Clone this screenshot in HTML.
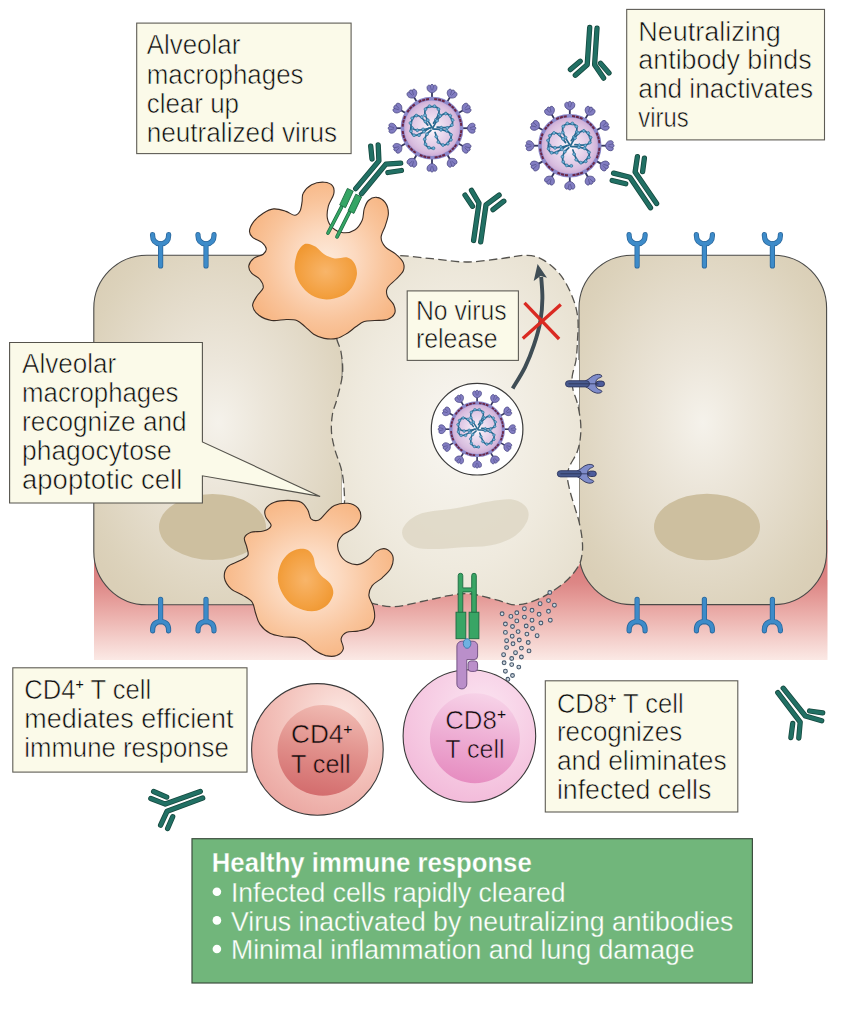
<!DOCTYPE html>
<html><head><meta charset="utf-8"><title>Healthy immune response</title>
<style>
html,body{margin:0;padding:0;background:#fff;}
svg{display:block;}
text{font-family:"Liberation Sans",sans-serif;}
</style></head><body>
<svg width="855" height="1024" viewBox="0 0 855 1024">
<defs>
<linearGradient id="pink" x1="0" y1="0" x2="0" y2="1">
 <stop offset="0" stop-color="#d26c6c"/><stop offset="0.32" stop-color="#d97c7c"/><stop offset="0.45" stop-color="#dd8786"/><stop offset="0.57" stop-color="#e59c99"/><stop offset="0.71" stop-color="#edb5b1"/><stop offset="0.857" stop-color="#f4d0cc"/><stop offset="1" stop-color="#fbe9e5"/>
</linearGradient>
<radialGradient id="cellg" cx="0.5" cy="0.48" r="0.62">
 <stop offset="0" stop-color="#f5f2eb"/><stop offset="0.3" stop-color="#ece6da"/><stop offset="0.6" stop-color="#e4dccb"/><stop offset="0.9" stop-color="#dcd2bb"/><stop offset="1" stop-color="#dacfb7"/>
</radialGradient>
<radialGradient id="midg" cx="0.5" cy="0.5" r="0.65">
 <stop offset="0" stop-color="#f8f6f1"/><stop offset="0.6" stop-color="#efeade"/><stop offset="1" stop-color="#e6dfce"/>
</radialGradient>
<radialGradient id="macg" cx="0.5" cy="0.5" r="0.55">
 <stop offset="0" stop-color="#fdeadb"/><stop offset="0.35" stop-color="#fcd9bf"/><stop offset="0.7" stop-color="#f9c49b"/><stop offset="1" stop-color="#f7b582"/>
</radialGradient>
<radialGradient id="nucg" cx="0.5" cy="0.5" r="0.6">
 <stop offset="0" stop-color="#f8b56a"/><stop offset="0.7" stop-color="#f3a040"/><stop offset="1" stop-color="#ef962e"/>
</radialGradient>
<radialGradient id="vg" cx="0.5" cy="0.5" r="0.5">
 <stop offset="0" stop-color="#ffffff"/><stop offset="0.25" stop-color="#f1e4f3"/><stop offset="0.8" stop-color="#d9bfe0"/><stop offset="1" stop-color="#c9a6d2"/>
</radialGradient>
<radialGradient id="cd4o" cx="0.68" cy="0.25" r="0.95">
 <stop offset="0" stop-color="#fbe7e2"/><stop offset="0.5" stop-color="#f3c1ba"/><stop offset="1" stop-color="#e89e99"/>
</radialGradient>
<linearGradient id="cd4i" x1="0.6" y1="0" x2="0.4" y2="1">
 <stop offset="0" stop-color="#f0bab2"/><stop offset="0.5" stop-color="#e1908b"/><stop offset="1" stop-color="#d36c6d"/>
</linearGradient>
<radialGradient id="cd8o" cx="0.6" cy="0.3" r="0.9">
 <stop offset="0" stop-color="#fbe4f1"/><stop offset="0.6" stop-color="#f5c6e0"/><stop offset="1" stop-color="#f0b0d4"/>
</radialGradient>
<linearGradient id="cd8i" x1="0.6" y1="0" x2="0.4" y2="1">
 <stop offset="0" stop-color="#f7d3e8"/><stop offset="0.5" stop-color="#eeaed4"/><stop offset="1" stop-color="#e68cc0"/>
</linearGradient>

<g id="spike"><line x1="0" y1="-29" x2="0" y2="-37" stroke="#35375f" stroke-width="1.8"/><path d="M0,-35.2 C-2.1,-35.8 -5.2,-37.4 -5,-40.6 C-4.8,-43.2 -2.3,-43.8 -1.7,-42.1 C-1.8,-44.4 1.8,-44.4 1.7,-42.1 C2.3,-43.8 4.8,-43.2 5,-40.6 C5.2,-37.4 2.1,-35.8 0,-35.2Z" fill="#827dc2" stroke="#4d4b86" stroke-width="0.8"/><path d="M-1.7,-42.1 L-0.6,-38 M1.7,-42.1 L0.6,-38" stroke="#4d4b86" stroke-width="0.6" fill="none"/></g>
<g id="petal"><path d="M0,-1 C-3,-6 -8.5,-12 -7,-18 C-6,-22.5 6,-23 7,-18 C8,-13 3,-8 1.5,-5" fill="none" stroke="#27688f" stroke-width="1.7" stroke-linecap="round"/>
<circle cx="-4.2" cy="-8.0" r="1.45" fill="#6fb2d8" stroke="#27688f" stroke-width="0.6"/>
<circle cx="-7.0" cy="-13.0" r="1.45" fill="#6fb2d8" stroke="#27688f" stroke-width="0.6"/>
<circle cx="-6.5" cy="-19.0" r="1.45" fill="#6fb2d8" stroke="#27688f" stroke-width="0.6"/>
<circle cx="-2.5" cy="-22.0" r="1.45" fill="#6fb2d8" stroke="#27688f" stroke-width="0.6"/>
<circle cx="2.5" cy="-22.0" r="1.45" fill="#6fb2d8" stroke="#27688f" stroke-width="0.6"/>
<circle cx="6.5" cy="-19.0" r="1.45" fill="#6fb2d8" stroke="#27688f" stroke-width="0.6"/>
<circle cx="7.0" cy="-13.5" r="1.45" fill="#6fb2d8" stroke="#27688f" stroke-width="0.6"/>
<circle cx="4.0" cy="-8.5" r="1.45" fill="#6fb2d8" stroke="#27688f" stroke-width="0.6"/>
</g>
<g id="virus">
<use href="#spike" transform="rotate(0)"/>
<use href="#spike" transform="rotate(30)"/>
<use href="#spike" transform="rotate(60)"/>
<use href="#spike" transform="rotate(90)"/>
<use href="#spike" transform="rotate(120)"/>
<use href="#spike" transform="rotate(150)"/>
<use href="#spike" transform="rotate(180)"/>
<use href="#spike" transform="rotate(210)"/>
<use href="#spike" transform="rotate(240)"/>
<use href="#spike" transform="rotate(270)"/>
<use href="#spike" transform="rotate(300)"/>
<use href="#spike" transform="rotate(330)"/>
<circle r="29.6" fill="url(#vg)" stroke="#8c89cb" stroke-width="3.6"/>
<circle r="29.4" fill="none" stroke="#6b2646" stroke-width="2" stroke-dasharray="3.06 0.82 3.06 0.82 3.06 4.48" stroke-dashoffset="-2.24" transform="rotate(-90)"/>
<use href="#petal" transform="rotate(0)"/>
<use href="#petal" transform="rotate(62)"/>
<use href="#petal" transform="rotate(128)"/>
<use href="#petal" transform="rotate(290)"/>
<path d="M-1,2 C-5,5 -8,10 -7,15 C-6,19 -2,21 2,20" fill="none" stroke="#27688f" stroke-width="1.7" stroke-linecap="round"/>
<circle cx="-5.0" cy="6.0" r="1.45" fill="#6fb2d8" stroke="#27688f" stroke-width="0.6"/>
<circle cx="-7.3" cy="11.0" r="1.45" fill="#6fb2d8" stroke="#27688f" stroke-width="0.6"/>
<circle cx="-6.5" cy="16.0" r="1.45" fill="#6fb2d8" stroke="#27688f" stroke-width="0.6"/>
<circle cx="-3.0" cy="19.5" r="1.45" fill="#6fb2d8" stroke="#27688f" stroke-width="0.6"/>
<circle cx="1.5" cy="20.0" r="1.45" fill="#6fb2d8" stroke="#27688f" stroke-width="0.6"/>
<path d="M-3,0 C-8,3 -13,8 -18,7 C-21,6 -22,2 -21,-1" fill="none" stroke="#27688f" stroke-width="1.7" stroke-linecap="round"/>
<circle cx="-8.0" cy="3.5" r="1.45" fill="#6fb2d8" stroke="#27688f" stroke-width="0.6"/>
<circle cx="-13.0" cy="7.0" r="1.45" fill="#6fb2d8" stroke="#27688f" stroke-width="0.6"/>
<circle cx="-18.0" cy="7.0" r="1.45" fill="#6fb2d8" stroke="#27688f" stroke-width="0.6"/>
<circle cx="-21.0" cy="3.0" r="1.45" fill="#6fb2d8" stroke="#27688f" stroke-width="0.6"/>
</g>
<g id="rec"><path d="M-8,-9.5 C-8.3,-3.5 -5,-0.5 0,0 C5,-0.5 8.3,-3.5 8,-9.5 M0,-0.5 V22" fill="none" stroke="#2b689d" stroke-width="5.2" stroke-linecap="round" stroke-linejoin="round"/><path d="M-8,-9.5 C-8.3,-3.5 -5,-0.5 0,0 C5,-0.5 8.3,-3.5 8,-9.5 M0,-0.5 V22" fill="none" stroke="#3d8bc9" stroke-width="3.6" stroke-linecap="round" stroke-linejoin="round"/></g>
<g id="srec"><path d="M20,-3 C23.5,-4 26,-8.5 31,-9.3 C33.5,-9.7 36.2,-9 36.4,-7.7 C36.5,-6.6 34.6,-6.3 33,-5.5 C31,-4.5 30.2,-2.5 30.2,0 C30.2,2.5 31,4.5 33,5.5 C34.6,6.3 36.5,6.6 36.4,7.7 C36.2,9 33.5,9.7 31,9.3 C26,8.5 23.5,4 20,3Z" fill="#7f8cca" stroke="#2b3156" stroke-width="0.9" stroke-linejoin="round"/><rect x="0" y="-3.1" width="24" height="6.2" rx="3.1" fill="#485a8e" stroke="#2f3760" stroke-width="0.9"/><rect x="30.5" y="-2.7" width="8.5" height="5.4" rx="2.7" fill="#4d5c9c" stroke="#2b3156" stroke-width="0.9"/><line x1="3" y1="0" x2="33" y2="0" stroke="#2b3156" stroke-width="0.8"/></g>
</defs>
<rect width="855" height="1024" fill="#ffffff"/>
<rect x="94" y="520" width="733.5" height="140" fill="url(#pink)"/>
<rect x="93.8" y="255.2" width="248.5" height="349.6" rx="53" ry="53" fill="url(#cellg)" stroke="#4a4a48" stroke-width="1.1"/>
<rect x="579" y="255.2" width="247.6" height="349.4" rx="53" ry="53" fill="url(#cellg)" stroke="#4a4a48" stroke-width="1.1"/>
<ellipse cx="212.5" cy="527" rx="53.5" ry="33" fill="#cdbf9f"/>
<ellipse cx="707" cy="527" rx="53" ry="33.2" fill="#cdbf9f"/>
<path d="M572,360 L579,360 L579,405 L577.3,403.2 L572.9,389.2 L572.2,376.5Z" fill="#fff"/>
<path d="M579,445 L579,522 L566,480 L569,464 L577.3,451.5Z" fill="#fff"/>
<path d="M342,470 L345.5,470 L345.5,503 L342,503Z" fill="#fff"/>
<path d="M338.0,262.0 C342.3,258.2 350.3,256.6 360.0,255.5 C369.7,254.4 384.0,254.8 396.0,255.3 C408.0,255.8 420.3,257.6 432.0,258.7 C443.7,259.8 454.7,262.0 466.0,262.0 C477.3,262.0 489.8,259.8 500.0,258.7 C510.2,257.6 519.7,255.0 527.0,255.3 C534.3,255.6 538.3,257.0 544.0,260.4 C549.7,263.8 556.2,269.4 561.0,275.6 C565.8,281.8 569.9,290.6 572.7,297.7 C575.5,304.8 577.0,310.9 577.8,318.0 C578.6,325.1 577.8,333.0 577.5,340.0 C577.2,347.0 576.9,353.9 576.0,360.0 C575.1,366.1 572.7,371.6 572.2,376.5 C571.7,381.4 572.0,384.8 572.9,389.2 C573.8,393.6 576.0,397.9 577.3,403.2 C578.6,408.5 580.0,415.5 580.5,421.0 C581.0,426.5 581.0,431.1 580.5,436.2 C580.0,441.3 579.1,446.4 577.3,451.5 C575.5,456.6 571.2,462.2 569.5,466.5 C567.8,470.8 567.1,472.6 567.3,477.0 C567.5,481.4 569.2,487.8 570.5,493.0 C571.8,498.2 573.6,503.2 575.0,508.0 C576.4,512.8 577.8,516.6 579.0,521.6 C580.2,526.6 581.5,532.9 582.0,538.0 C582.5,543.1 582.9,547.3 582.3,552.0 C581.7,556.7 581.5,560.9 578.5,566.0 C575.5,571.1 570.5,577.5 564.2,582.8 C557.9,588.1 548.4,594.3 540.5,598.0 C532.6,601.7 524.1,604.6 516.7,604.9 C509.4,605.2 504.3,601.7 496.4,599.8 C488.5,597.9 477.2,594.4 469.3,593.7 C461.4,593.0 456.8,594.4 448.9,595.7 C441.0,597.0 430.9,599.7 421.8,601.5 C412.8,603.3 403.1,606.3 394.6,606.6 C386.1,606.9 378.7,604.8 370.9,603.2 C363.1,601.6 354.0,600.9 348.0,597.0 C342.0,593.1 337.8,587.8 335.0,580.0 C332.2,572.2 331.2,558.3 331.0,550.0 C330.8,541.7 332.0,536.7 334.0,530.0 C336.0,523.3 341.2,515.5 343.0,510.0 C344.8,504.5 344.7,503.3 344.5,497.0 C344.3,490.7 343.6,479.8 342.0,472.0 C340.4,464.2 336.8,456.7 335.0,450.0 C333.2,443.3 331.9,438.0 331.5,432.0 C331.1,426.0 331.6,419.5 332.5,414.0 C333.4,408.5 335.3,405.7 337.0,399.0 C338.7,392.3 341.8,381.8 342.5,374.0 C343.2,366.2 342.1,358.5 341.0,352.0 C339.9,345.5 337.2,343.7 336.0,335.0 C334.8,326.3 334.3,309.5 334.0,300.0 C333.7,290.5 333.3,284.3 334.0,278.0 C334.7,271.7 333.7,265.8 338.0,262.0Z" fill="url(#midg)" stroke="#55534e" stroke-width="1.3" stroke-dasharray="8.5 4.2"/>
<path d="M404.8,525.2 C407.9,521.2 413.3,516.1 421.8,513.3 C430.2,510.5 444.4,510.2 455.7,508.2 C467.0,506.2 480.0,502.8 489.6,501.4 C499.2,500.0 507.1,498.6 513.4,499.7 C519.6,500.8 524.7,504.5 526.9,508.2 C529.2,511.9 529.2,517.0 526.9,521.8 C524.7,526.6 519.6,533.1 513.4,537.0 C507.1,541.0 498.1,543.8 489.6,545.5 C481.1,547.2 470.9,546.6 462.5,547.2 C454.0,547.8 446.6,548.9 438.7,548.9 C430.8,548.9 420.9,549.2 415.0,547.2 C409.0,545.2 404.8,540.7 403.1,537.0 C401.4,533.4 401.7,529.1 404.8,525.2Z" fill="#dfd8c6" opacity="0.9"/>
<use href="#srec" transform="translate(565.5,383.8)"/>
<use href="#srec" transform="translate(557.3,473.8)"/>
<path d="M512.7,388.4 C514.8,384.8 521.6,374.3 525.1,367.1 C528.6,359.9 531.3,353.0 533.9,345.2 C536.5,337.4 539.1,328.1 540.5,320.3 C541.9,312.5 542.3,305.5 542.4,298.3 C542.5,291.1 541.4,280.6 541.2,277.0" fill="none" stroke="#3f4d55" stroke-width="3.9" stroke-linecap="butt"/>
<path d="M537.6,264 L547,277.8 L540.6,276 L533.7,281Z" fill="#3f4d55"/>
<path d="M524.5,302.8 L559.1,339 M560.8,304.5 L522.8,338.4" stroke="#da2a22" stroke-width="3.3" fill="none"/>
<circle cx="477.1" cy="429.2" r="45.8" fill="#fff" stroke="#3b3b3b" stroke-width="1.2"/>
<use href="#virus" transform="translate(477.1,429.2) scale(0.888)"/>
<use href="#virus" transform="translate(432,128.2)"/>
<use href="#virus" transform="translate(569.8,145.7) scale(1.01)"/>
<use href="#rec" transform="translate(160.6,244)"/>
<use href="#rec" transform="translate(160.6,621.3) scale(1,-1)"/>
<use href="#rec" transform="translate(206.0,244)"/>
<use href="#rec" transform="translate(206.0,621.3) scale(1,-1)"/>
<use href="#rec" transform="translate(637.1,244)"/>
<use href="#rec" transform="translate(637.1,621.3) scale(1,-1)"/>
<use href="#rec" transform="translate(704.4,244)"/>
<use href="#rec" transform="translate(704.4,621.3) scale(1,-1)"/>
<use href="#rec" transform="translate(772.4,244)"/>
<use href="#rec" transform="translate(772.4,621.3) scale(1,-1)"/>
<path d="M303.2,193.2 C304.7,190.4 308.1,186.6 311.6,184.7 C315.1,182.9 320.7,182.0 324.2,182.2 C327.7,182.4 331.1,183.8 332.6,185.8 C334.2,187.8 334.4,190.9 333.7,194.2 C333.0,197.5 329.5,201.8 328.4,205.8 C327.4,209.8 326.7,214.7 327.4,218.4 C328.1,222.1 330.0,225.5 332.6,227.9 C335.3,230.3 339.5,232.4 343.2,232.7 C346.8,233.1 351.6,232.0 354.7,230.0 C357.9,228.0 360.5,224.0 362.1,220.5 C363.7,217.0 363.2,212.3 364.2,208.9 C365.3,205.6 366.3,202.5 368.4,200.5 C370.5,198.6 374.0,197.0 376.8,197.4 C379.6,197.7 383.3,200.0 385.3,202.6 C387.2,205.3 388.4,209.3 388.4,213.2 C388.4,217.0 386.5,221.8 385.3,225.8 C384.0,229.8 381.1,233.9 381.1,237.4 C381.1,240.9 382.8,244.0 385.3,246.8 C387.7,249.6 392.8,251.6 395.8,254.2 C398.8,256.8 401.9,259.8 403.2,262.6 C404.4,265.4 404.4,268.2 403.2,271.1 C401.9,273.9 398.4,276.7 395.8,279.5 C393.2,282.3 388.8,285.1 387.4,287.9 C386.0,290.7 386.3,293.5 387.4,296.3 C388.4,299.1 392.5,301.9 393.7,304.7 C394.9,307.5 395.8,310.7 394.7,313.2 C393.7,315.6 390.7,318.2 387.4,319.5 C384.0,320.7 378.6,320.2 374.7,320.5 C370.9,320.9 367.4,320.5 364.2,321.6 C361.1,322.6 358.6,324.9 355.8,326.8 C353.0,328.8 350.5,331.2 347.4,333.2 C344.2,335.1 340.7,337.5 336.8,338.4 C333.0,339.3 328.1,339.1 324.2,338.4 C320.4,337.7 316.8,336.1 313.7,334.2 C310.5,332.3 308.1,329.1 305.3,326.8 C302.5,324.6 300.0,321.8 296.8,320.5 C293.7,319.3 290.5,319.5 286.3,319.5 C282.1,319.5 276.1,321.2 271.6,320.5 C267.0,319.8 262.1,317.7 258.9,315.3 C255.8,312.8 253.0,308.9 252.6,305.8 C252.3,302.6 255.1,299.3 256.8,296.3 C258.6,293.3 262.6,290.7 263.2,287.9 C263.7,285.1 261.9,281.9 260.0,279.5 C258.1,277.0 253.4,275.4 251.6,273.2 C249.7,270.9 248.5,268.2 248.8,265.8 C249.2,263.3 251.3,260.4 253.7,258.4 C256.1,256.5 261.1,255.8 263.2,254.2 C265.3,252.6 266.5,250.9 266.3,248.9 C266.1,247.0 264.4,244.6 262.1,242.6 C259.8,240.7 254.7,239.3 252.6,237.4 C250.5,235.4 249.3,233.7 249.5,231.1 C249.6,228.4 251.4,224.6 253.7,221.6 C256.0,218.6 259.8,215.3 263.2,213.2 C266.5,211.1 270.0,209.3 273.7,208.9 C277.4,208.6 281.8,210.0 285.3,211.1 C288.8,212.1 292.3,215.3 294.7,215.3 C297.2,215.3 298.8,213.3 300.0,211.1 C301.2,208.8 301.6,204.6 302.1,201.6 C302.6,198.6 301.6,196.0 303.2,193.2Z" fill="url(#macg)" stroke="#3a2c24" stroke-width="1.1"/>
<path d="M307.4,243.7 C309.6,243.9 313.0,245.1 315.8,246.8 C318.6,248.6 321.1,252.3 324.2,254.2 C327.4,256.1 330.9,257.9 334.7,258.4 C338.6,258.9 344.0,256.5 347.4,257.4 C350.7,258.2 353.2,260.7 354.7,263.7 C356.3,266.7 357.4,271.2 356.8,275.3 C356.3,279.3 354.2,284.4 351.6,287.9 C348.9,291.4 345.3,294.4 341.1,296.3 C336.8,298.2 331.2,299.6 326.3,299.5 C321.4,299.3 316.0,297.9 311.6,295.3 C307.2,292.6 302.8,288.1 300.0,283.7 C297.2,279.3 295.3,273.9 294.7,268.9 C294.2,264.0 295.6,258.1 296.8,254.2 C298.1,250.4 300.4,247.5 302.1,245.8 C303.9,244.0 305.1,243.5 307.4,243.7Z" fill="url(#nucg)"/>
<path d="M265.6,508.9 C267.0,506.5 270.7,503.6 274.4,502.2 C278.1,500.8 283.3,500.4 287.8,500.4 C292.2,500.4 297.8,500.6 301.1,502.2 C304.4,503.8 306.1,507.2 307.8,510.0 C309.4,512.8 309.3,517.2 311.1,518.9 C313.0,520.6 316.5,520.9 318.9,520.0 C321.3,519.1 323.0,515.7 325.6,513.3 C328.1,510.9 330.7,507.2 334.4,505.6 C338.1,503.9 343.9,503.0 347.8,503.3 C351.7,503.7 355.6,505.4 357.8,507.8 C359.9,510.2 361.2,514.4 360.7,517.8 C360.1,521.1 357.3,525.0 354.4,527.8 C351.6,530.6 346.1,531.9 343.3,534.4 C340.6,537.0 338.3,540.0 337.8,543.3 C337.2,546.7 338.3,551.3 340.0,554.4 C341.7,557.6 344.6,560.6 347.8,562.2 C350.9,563.9 355.4,565.0 358.9,564.4 C362.4,563.9 365.9,561.1 368.9,558.9 C371.9,556.7 373.9,552.8 376.7,551.1 C379.4,549.4 382.9,548.1 385.6,548.9 C388.2,549.6 391.7,552.4 392.7,555.6 C393.6,558.7 392.9,564.1 391.1,567.8 C389.4,571.5 385.4,574.8 382.2,577.8 C379.1,580.7 374.4,582.6 372.2,585.6 C370.0,588.5 368.7,592.0 368.9,595.6 C369.1,599.1 372.4,602.8 373.3,606.7 C374.3,610.6 375.2,615.4 374.4,618.9 C373.7,622.4 371.7,625.7 368.9,627.8 C366.1,629.8 361.5,630.4 357.8,631.1 C354.1,631.9 349.4,630.9 346.7,632.2 C343.9,633.5 341.7,636.1 341.1,638.9 C340.6,641.7 344.1,646.1 343.3,648.9 C342.6,651.7 339.6,654.4 336.7,655.6 C333.7,656.7 329.3,656.5 325.6,655.6 C321.9,654.6 317.8,652.2 314.4,650.0 C311.1,647.8 308.5,644.3 305.6,642.2 C302.6,640.2 300.4,638.7 296.7,637.8 C293.0,636.9 287.8,637.4 283.3,636.7 C278.9,635.9 273.9,635.4 270.0,633.3 C266.1,631.3 262.4,627.8 260.0,624.4 C257.6,621.1 256.9,617.0 255.6,613.3 C254.3,609.6 254.3,605.2 252.2,602.2 C250.2,599.3 246.9,597.8 243.3,595.6 C239.8,593.3 234.3,591.9 231.1,588.9 C228.0,585.9 225.0,581.5 224.4,577.8 C223.9,574.1 225.4,569.4 227.8,566.7 C230.2,563.9 235.6,563.0 238.9,561.1 C242.2,559.3 246.5,558.0 247.8,555.6 C249.1,553.1 247.2,549.6 246.7,546.7 C246.1,543.7 243.7,540.2 244.4,537.8 C245.2,535.4 248.0,533.3 251.1,532.2 C254.3,531.1 260.0,532.2 263.3,531.1 C266.7,530.0 270.7,528.0 271.1,525.6 C271.5,523.1 266.5,519.4 265.6,516.7 C264.6,513.9 264.1,511.3 265.6,508.9Z" fill="url(#macg)" stroke="#3a2c24" stroke-width="1.1"/>
<path d="M298.9,548.9 C302.0,548.3 305.4,548.7 307.8,550.0 C310.2,551.3 312.0,553.9 313.3,556.7 C314.6,559.4 314.3,563.5 315.6,566.7 C316.9,569.8 318.7,572.8 321.1,575.6 C323.5,578.3 328.0,580.4 330.0,583.3 C332.0,586.3 333.7,589.8 333.3,593.3 C333.0,596.9 330.6,601.6 327.8,604.4 C325.0,607.3 320.7,609.7 316.7,610.7 C312.6,611.6 307.8,611.2 303.3,610.0 C298.9,608.8 293.7,606.5 290.0,603.3 C286.3,600.2 283.1,595.4 281.1,591.1 C279.1,586.9 277.8,582.4 277.8,577.8 C277.8,573.1 279.3,567.4 281.1,563.3 C283.0,559.3 285.9,555.7 288.9,553.3 C291.9,550.9 295.7,549.4 298.9,548.9Z" fill="url(#nucg)"/>
<path d="M341.5,207.2 L328.0,233.0" stroke="#1b6b41" stroke-width="3.7" stroke-linecap="round"/><path d="M341.5,207.2 L328.0,233.0" stroke="#35a565" stroke-width="2.3" stroke-linecap="round"/>
<path d="M349.3,212.4 L337.0,236.8" stroke="#1b6b41" stroke-width="3.7" stroke-linecap="round"/><path d="M349.3,212.4 L337.0,236.8" stroke="#35a565" stroke-width="2.3" stroke-linecap="round"/>
<path d="M347.4,188.4 L339.7,204.9 L345.5,207.7 L353.2,191.2Z" fill="#35a565" stroke="#1b6b41" stroke-width="0.9" stroke-linejoin="round"/>
<path d="M355.8,194.2 L348.1,210.6 L353.9,213.4 L361.6,197.0Z" fill="#35a565" stroke="#1b6b41" stroke-width="0.9" stroke-linejoin="round"/>
<path d="M589.7,27.5 L587.2,64.7 L575.3,75.3" fill="none" stroke="#15493f" stroke-width="5.3" stroke-linecap="round" stroke-linejoin="round"/>
<path d="M597.0,28.2 L594.6,64.7 L603.6,78.1" fill="none" stroke="#15493f" stroke-width="5.3" stroke-linecap="round" stroke-linejoin="round"/>
<path d="M580.2,61.2 L570.4,69.6" fill="none" stroke="#15493f" stroke-width="5.3" stroke-linecap="round" stroke-linejoin="round"/>
<path d="M600.5,63.3 L609.0,72.9" fill="none" stroke="#15493f" stroke-width="5.3" stroke-linecap="round" stroke-linejoin="round"/>
<path d="M589.7,27.5 L587.2,64.7 L575.3,75.3" fill="none" stroke="#217064" stroke-width="3.7" stroke-linecap="round" stroke-linejoin="round"/>
<path d="M597.0,28.2 L594.6,64.7 L603.6,78.1" fill="none" stroke="#217064" stroke-width="3.7" stroke-linecap="round" stroke-linejoin="round"/>
<path d="M580.2,61.2 L570.4,69.6" fill="none" stroke="#217064" stroke-width="3.7" stroke-linecap="round" stroke-linejoin="round"/>
<path d="M600.5,63.3 L609.0,72.9" fill="none" stroke="#217064" stroke-width="3.7" stroke-linecap="round" stroke-linejoin="round"/>
<path d="M473.6,240.5 L479.0,203.1 L471.5,190.4" fill="none" stroke="#15493f" stroke-width="5.3" stroke-linecap="round" stroke-linejoin="round"/>
<path d="M480.7,241.9 L486.0,204.9 L499.1,195.1" fill="none" stroke="#15493f" stroke-width="5.3" stroke-linecap="round" stroke-linejoin="round"/>
<path d="M465.0,195.1 L472.5,206.3" fill="none" stroke="#15493f" stroke-width="5.3" stroke-linecap="round" stroke-linejoin="round"/>
<path d="M493.0,209.6 L503.8,201.2" fill="none" stroke="#15493f" stroke-width="5.3" stroke-linecap="round" stroke-linejoin="round"/>
<path d="M473.6,240.5 L479.0,203.1 L471.5,190.4" fill="none" stroke="#217064" stroke-width="3.7" stroke-linecap="round" stroke-linejoin="round"/>
<path d="M480.7,241.9 L486.0,204.9 L499.1,195.1" fill="none" stroke="#217064" stroke-width="3.7" stroke-linecap="round" stroke-linejoin="round"/>
<path d="M465.0,195.1 L472.5,206.3" fill="none" stroke="#217064" stroke-width="3.7" stroke-linecap="round" stroke-linejoin="round"/>
<path d="M493.0,209.6 L503.8,201.2" fill="none" stroke="#217064" stroke-width="3.7" stroke-linecap="round" stroke-linejoin="round"/>
<path d="M613.6,173.1 L629.9,177.3 L650.5,207.7" fill="none" stroke="#15493f" stroke-width="5.3" stroke-linecap="round" stroke-linejoin="round"/>
<path d="M637.4,156.7 L635.1,172.1 L656.6,203.5" fill="none" stroke="#15493f" stroke-width="5.3" stroke-linecap="round" stroke-linejoin="round"/>
<path d="M612.2,180.5 L625.7,183.8" fill="none" stroke="#15493f" stroke-width="5.3" stroke-linecap="round" stroke-linejoin="round"/>
<path d="M644.4,158.1 L642.6,171.7" fill="none" stroke="#15493f" stroke-width="5.3" stroke-linecap="round" stroke-linejoin="round"/>
<path d="M613.6,173.1 L629.9,177.3 L650.5,207.7" fill="none" stroke="#217064" stroke-width="3.7" stroke-linecap="round" stroke-linejoin="round"/>
<path d="M637.4,156.7 L635.1,172.1 L656.6,203.5" fill="none" stroke="#217064" stroke-width="3.7" stroke-linecap="round" stroke-linejoin="round"/>
<path d="M612.2,180.5 L625.7,183.8" fill="none" stroke="#217064" stroke-width="3.7" stroke-linecap="round" stroke-linejoin="round"/>
<path d="M644.4,158.1 L642.6,171.7" fill="none" stroke="#217064" stroke-width="3.7" stroke-linecap="round" stroke-linejoin="round"/>
<path d="M150.8,798.5 L165.3,804.1 L200.3,791.5" fill="none" stroke="#15493f" stroke-width="5.3" stroke-linecap="round" stroke-linejoin="round"/>
<path d="M160.6,825.2 L167.1,811.2 L202.7,798.1" fill="none" stroke="#15493f" stroke-width="5.3" stroke-linecap="round" stroke-linejoin="round"/>
<path d="M153.6,791.5 L166.7,797.1" fill="none" stroke="#15493f" stroke-width="5.3" stroke-linecap="round" stroke-linejoin="round"/>
<path d="M172.7,816.8 L167.6,828.5" fill="none" stroke="#15493f" stroke-width="5.3" stroke-linecap="round" stroke-linejoin="round"/>
<path d="M150.8,798.5 L165.3,804.1 L200.3,791.5" fill="none" stroke="#217064" stroke-width="3.7" stroke-linecap="round" stroke-linejoin="round"/>
<path d="M160.6,825.2 L167.1,811.2 L202.7,798.1" fill="none" stroke="#217064" stroke-width="3.7" stroke-linecap="round" stroke-linejoin="round"/>
<path d="M153.6,791.5 L166.7,797.1" fill="none" stroke="#217064" stroke-width="3.7" stroke-linecap="round" stroke-linejoin="round"/>
<path d="M172.7,816.8 L167.6,828.5" fill="none" stroke="#217064" stroke-width="3.7" stroke-linecap="round" stroke-linejoin="round"/>
<path d="M783.2,688.2 L805.4,716.0 L821.7,720.7" fill="none" stroke="#15493f" stroke-width="5.3" stroke-linecap="round" stroke-linejoin="round"/>
<path d="M777.8,692.6 L800.2,722.1 L798.8,738.0" fill="none" stroke="#15493f" stroke-width="5.3" stroke-linecap="round" stroke-linejoin="round"/>
<path d="M809.6,711.0 L822.7,712.9" fill="none" stroke="#15493f" stroke-width="5.3" stroke-linecap="round" stroke-linejoin="round"/>
<path d="M792.7,723.5 L790.9,737.5" fill="none" stroke="#15493f" stroke-width="5.3" stroke-linecap="round" stroke-linejoin="round"/>
<path d="M783.2,688.2 L805.4,716.0 L821.7,720.7" fill="none" stroke="#217064" stroke-width="3.7" stroke-linecap="round" stroke-linejoin="round"/>
<path d="M777.8,692.6 L800.2,722.1 L798.8,738.0" fill="none" stroke="#217064" stroke-width="3.7" stroke-linecap="round" stroke-linejoin="round"/>
<path d="M809.6,711.0 L822.7,712.9" fill="none" stroke="#217064" stroke-width="3.7" stroke-linecap="round" stroke-linejoin="round"/>
<path d="M792.7,723.5 L790.9,737.5" fill="none" stroke="#217064" stroke-width="3.7" stroke-linecap="round" stroke-linejoin="round"/>
<path d="M355.7,188.6 L378.9,160.9 L378.2,144.8" fill="none" stroke="#15493f" stroke-width="5.3" stroke-linecap="round" stroke-linejoin="round"/>
<path d="M361.5,193.7 L385.9,164.1 L400.7,163.2" fill="none" stroke="#15493f" stroke-width="5.3" stroke-linecap="round" stroke-linejoin="round"/>
<path d="M370.7,146.1 L372.0,159.0" fill="none" stroke="#15493f" stroke-width="5.3" stroke-linecap="round" stroke-linejoin="round"/>
<path d="M387.9,172.5 L401.4,170.5" fill="none" stroke="#15493f" stroke-width="5.3" stroke-linecap="round" stroke-linejoin="round"/>
<path d="M355.7,188.6 L378.9,160.9 L378.2,144.8" fill="none" stroke="#217064" stroke-width="3.7" stroke-linecap="round" stroke-linejoin="round"/>
<path d="M361.5,193.7 L385.9,164.1 L400.7,163.2" fill="none" stroke="#217064" stroke-width="3.7" stroke-linecap="round" stroke-linejoin="round"/>
<path d="M370.7,146.1 L372.0,159.0" fill="none" stroke="#217064" stroke-width="3.7" stroke-linecap="round" stroke-linejoin="round"/>
<path d="M387.9,172.5 L401.4,170.5" fill="none" stroke="#217064" stroke-width="3.7" stroke-linecap="round" stroke-linejoin="round"/>
<circle cx="502.1" cy="613.8" r="1.9" fill="#cfd8e0" stroke="#46586c" stroke-width="1.05"/>
<circle cx="510.9" cy="616.4" r="1.9" fill="#cfd8e0" stroke="#46586c" stroke-width="1.05"/>
<circle cx="516.8" cy="612.8" r="1.9" fill="#cfd8e0" stroke="#46586c" stroke-width="1.05"/>
<circle cx="524.4" cy="608.7" r="1.9" fill="#cfd8e0" stroke="#46586c" stroke-width="1.05"/>
<circle cx="532.0" cy="610.3" r="1.9" fill="#cfd8e0" stroke="#46586c" stroke-width="1.05"/>
<circle cx="540.1" cy="603.7" r="1.9" fill="#cfd8e0" stroke="#46586c" stroke-width="1.05"/>
<circle cx="548.5" cy="600.6" r="1.9" fill="#cfd8e0" stroke="#46586c" stroke-width="1.05"/>
<circle cx="549.8" cy="592.5" r="1.9" fill="#cfd8e0" stroke="#46586c" stroke-width="1.05"/>
<circle cx="554.4" cy="605.2" r="1.9" fill="#cfd8e0" stroke="#46586c" stroke-width="1.05"/>
<circle cx="548.5" cy="611.3" r="1.9" fill="#cfd8e0" stroke="#46586c" stroke-width="1.05"/>
<circle cx="539.1" cy="614.3" r="1.9" fill="#cfd8e0" stroke="#46586c" stroke-width="1.05"/>
<circle cx="532.0" cy="620.2" r="1.9" fill="#cfd8e0" stroke="#46586c" stroke-width="1.05"/>
<circle cx="524.4" cy="617.1" r="1.9" fill="#cfd8e0" stroke="#46586c" stroke-width="1.05"/>
<circle cx="516.8" cy="620.9" r="1.9" fill="#cfd8e0" stroke="#46586c" stroke-width="1.05"/>
<circle cx="505.4" cy="624.0" r="1.9" fill="#cfd8e0" stroke="#46586c" stroke-width="1.05"/>
<circle cx="512.5" cy="626.5" r="1.9" fill="#cfd8e0" stroke="#46586c" stroke-width="1.05"/>
<circle cx="518.1" cy="631.6" r="1.9" fill="#cfd8e0" stroke="#46586c" stroke-width="1.05"/>
<circle cx="526.2" cy="626.0" r="1.9" fill="#cfd8e0" stroke="#46586c" stroke-width="1.05"/>
<circle cx="532.5" cy="628.5" r="1.9" fill="#cfd8e0" stroke="#46586c" stroke-width="1.05"/>
<circle cx="540.9" cy="623.0" r="1.9" fill="#cfd8e0" stroke="#46586c" stroke-width="1.05"/>
<circle cx="550.3" cy="620.2" r="1.9" fill="#cfd8e0" stroke="#46586c" stroke-width="1.05"/>
<circle cx="537.1" cy="635.7" r="1.9" fill="#cfd8e0" stroke="#46586c" stroke-width="1.05"/>
<circle cx="526.9" cy="634.1" r="1.9" fill="#cfd8e0" stroke="#46586c" stroke-width="1.05"/>
<circle cx="519.3" cy="640.0" r="1.9" fill="#cfd8e0" stroke="#46586c" stroke-width="1.05"/>
<circle cx="512.2" cy="636.2" r="1.9" fill="#cfd8e0" stroke="#46586c" stroke-width="1.05"/>
<circle cx="505.4" cy="632.4" r="1.9" fill="#cfd8e0" stroke="#46586c" stroke-width="1.05"/>
<circle cx="506.6" cy="640.7" r="1.9" fill="#cfd8e0" stroke="#46586c" stroke-width="1.05"/>
<circle cx="513.0" cy="643.8" r="1.9" fill="#cfd8e0" stroke="#46586c" stroke-width="1.05"/>
<circle cx="521.4" cy="648.1" r="1.9" fill="#cfd8e0" stroke="#46586c" stroke-width="1.05"/>
<circle cx="528.2" cy="642.5" r="1.9" fill="#cfd8e0" stroke="#46586c" stroke-width="1.05"/>
<circle cx="529.0" cy="650.9" r="1.9" fill="#cfd8e0" stroke="#46586c" stroke-width="1.05"/>
<circle cx="515.5" cy="652.7" r="1.9" fill="#cfd8e0" stroke="#46586c" stroke-width="1.05"/>
<circle cx="506.6" cy="647.6" r="1.9" fill="#cfd8e0" stroke="#46586c" stroke-width="1.05"/>
<circle cx="503.6" cy="654.7" r="1.9" fill="#cfd8e0" stroke="#46586c" stroke-width="1.05"/>
<circle cx="511.7" cy="658.5" r="1.9" fill="#cfd8e0" stroke="#46586c" stroke-width="1.05"/>
<circle cx="521.4" cy="657.0" r="1.9" fill="#cfd8e0" stroke="#46586c" stroke-width="1.05"/>
<circle cx="518.8" cy="667.1" r="1.9" fill="#cfd8e0" stroke="#46586c" stroke-width="1.05"/>
<circle cx="511.7" cy="664.6" r="1.9" fill="#cfd8e0" stroke="#46586c" stroke-width="1.05"/>
<circle cx="504.1" cy="662.8" r="1.9" fill="#cfd8e0" stroke="#46586c" stroke-width="1.05"/>
<circle cx="505.4" cy="671.2" r="1.9" fill="#cfd8e0" stroke="#46586c" stroke-width="1.05"/>
<circle cx="512.5" cy="675.5" r="1.9" fill="#cfd8e0" stroke="#46586c" stroke-width="1.05"/>
<circle cx="507.9" cy="679.3" r="1.9" fill="#cfd8e0" stroke="#46586c" stroke-width="1.05"/>
<circle cx="317.4" cy="749.4" r="65.8" fill="url(#cd4o)" stroke="#3a3a3a" stroke-width="1.1"/>
<circle cx="322.9" cy="750.4" r="45.4" fill="url(#cd4i)"/>
<circle cx="469.4" cy="736" r="66.3" fill="url(#cd8o)" stroke="#3a3a3a" stroke-width="1.1"/>
<circle cx="474.9" cy="738.3" r="45" fill="url(#cd8i)"/>
<path d="M458.2,612.6 V575.6 a2.3,2.3 0 0 1 4.6,0 V587.9 H471.7 V575.6 a2.3,2.3 0 0 1 4.6,0 V612.6 H471.7 V591.9 H462.8 V612.6Z" fill="#39a565" stroke="#1c6a40" stroke-width="0.9" stroke-linejoin="round"/>
<rect x="456" y="612.2" width="9.8" height="26.5" fill="#39a565" stroke="#1c6a40" stroke-width="0.9"/>
<rect x="469.1" y="612.2" width="9.8" height="26.5" fill="#39a565" stroke="#1c6a40" stroke-width="0.9"/>
<path d="M456.9,646 a5,5 0 0 1 5,-4.8 H473 a4.6,4.6 0 0 1 4.6,4.6 V656 a3.5,3.5 0 0 1 -3.5,3.6 H466.8 V684 a4.95,4.95 0 0 1 -9.9,0Z" fill="#ba8fca" stroke="#6b4b7c" stroke-width="0.9"/>
<rect x="468.1" y="660.9" width="9.5" height="10.5" rx="3" fill="#ba8fca" stroke="#6b4b7c" stroke-width="0.9"/>
<ellipse cx="467.1" cy="643.5" rx="3.8" ry="4.8" fill="#6fb1e1" stroke="#2f6f9f" stroke-width="0.8"/>
<rect x="136.7" y="23.1" width="214.4" height="130.5" fill="#fbfae9" stroke="#5e5c55" stroke-width="1.1"/>
<text x="146.7" y="54.0" font-size="27" fill="#0c0c0c" textLength="93.6" lengthAdjust="spacingAndGlyphs"  stroke="#fbfae9" stroke-width="0.6">Alveolar</text>
<text x="146.7" y="83.6" font-size="27" fill="#0c0c0c" textLength="156.8" lengthAdjust="spacingAndGlyphs"  stroke="#fbfae9" stroke-width="0.6">macrophages</text>
<text x="146.7" y="112.6" font-size="27" fill="#0c0c0c" textLength="92.3" lengthAdjust="spacingAndGlyphs"  stroke="#fbfae9" stroke-width="0.6">clear up</text>
<text x="146.7" y="141.9" font-size="27" fill="#0c0c0c" textLength="190.5" lengthAdjust="spacingAndGlyphs"  stroke="#fbfae9" stroke-width="0.6">neutralized virus</text>
<rect x="626.7" y="9.4" width="197.8" height="130.5" fill="#fbfae9" stroke="#5e5c55" stroke-width="1.1"/>
<text x="638.3" y="40.8" font-size="27" fill="#0c0c0c" textLength="142.6" lengthAdjust="spacingAndGlyphs"  stroke="#fbfae9" stroke-width="0.6">Neutralizing</text>
<text x="638.3" y="69.1" font-size="27" fill="#0c0c0c" textLength="173.3" lengthAdjust="spacingAndGlyphs"  stroke="#fbfae9" stroke-width="0.6">antibody binds</text>
<text x="638.3" y="98.2" font-size="27" fill="#0c0c0c" textLength="174.9" lengthAdjust="spacingAndGlyphs"  stroke="#fbfae9" stroke-width="0.6">and inactivates</text>
<text x="638.3" y="126.9" font-size="27" fill="#0c0c0c" textLength="50.3" lengthAdjust="spacingAndGlyphs"  stroke="#fbfae9" stroke-width="0.6">virus</text>
<path d="M9.6,342.5 H202.4 V441.9 L320.1,496.4 L202.4,475.8 V503 H9.6Z" fill="#fbfae9" stroke="#55534c" stroke-width="1.1" stroke-linejoin="miter"/>
<text x="22.1" y="372.8" font-size="27" fill="#0c0c0c" textLength="94.1" lengthAdjust="spacingAndGlyphs"  stroke="#fbfae9" stroke-width="0.6">Alveolar</text>
<text x="22.1" y="401.7" font-size="27" fill="#0c0c0c" textLength="156.4" lengthAdjust="spacingAndGlyphs"  stroke="#fbfae9" stroke-width="0.6">macrophages</text>
<text x="22.1" y="431.1" font-size="27" fill="#0c0c0c" textLength="164.5" lengthAdjust="spacingAndGlyphs"  stroke="#fbfae9" stroke-width="0.6">recognize and</text>
<text x="22.1" y="460.0" font-size="27" fill="#0c0c0c" textLength="149.6" lengthAdjust="spacingAndGlyphs"  stroke="#fbfae9" stroke-width="0.6">phagocytose</text>
<text x="22.1" y="488.9" font-size="27" fill="#0c0c0c" textLength="160.2" lengthAdjust="spacingAndGlyphs"  stroke="#fbfae9" stroke-width="0.6">apoptotic cell</text>
<rect x="407.2" y="290.9" width="111.2" height="69.5" fill="#fbfae9" stroke="#5e5c55" stroke-width="1.1"/>
<text x="416.0" y="320.0" font-size="27" fill="#0c0c0c" textLength="90.5" lengthAdjust="spacingAndGlyphs"  stroke="#fbfae9" stroke-width="0.6">No virus</text>
<text x="416.0" y="348.2" font-size="27" fill="#0c0c0c" textLength="81.5" lengthAdjust="spacingAndGlyphs"  stroke="#fbfae9" stroke-width="0.6">release</text>
<rect x="12.8" y="667.8" width="234.2" height="104.3" fill="#fbfae9" stroke="#5e5c55" stroke-width="1.1"/>
<text x="24.3" y="698.9" font-size="27" fill="#0c0c0c" textLength="126.9" lengthAdjust="spacingAndGlyphs"  stroke="#fbfae9" stroke-width="0.6">CD4<tspan font-size="15" dy="-9.5" stroke="none">+</tspan><tspan dy="9.5"> T cell</tspan></text>
<text x="24.3" y="728.4" font-size="27" fill="#0c0c0c" textLength="209.3" lengthAdjust="spacingAndGlyphs"  stroke="#fbfae9" stroke-width="0.6">mediates efficient</text>
<text x="24.3" y="757.3" font-size="27" fill="#0c0c0c" textLength="204.4" lengthAdjust="spacingAndGlyphs"  stroke="#fbfae9" stroke-width="0.6">immune response</text>
<rect x="545.3" y="680.8" width="192.5" height="131.2" fill="#fbfae9" stroke="#5e5c55" stroke-width="1.1"/>
<text x="556.9" y="712.5" font-size="27" fill="#0c0c0c" textLength="126.8" lengthAdjust="spacingAndGlyphs"  stroke="#fbfae9" stroke-width="0.6">CD8<tspan font-size="15" dy="-9.5" stroke="none">+</tspan><tspan dy="9.5"> T cell</tspan></text>
<text x="556.9" y="741.3" font-size="27" fill="#0c0c0c" textLength="125.3" lengthAdjust="spacingAndGlyphs"  stroke="#fbfae9" stroke-width="0.6">recognizes</text>
<text x="556.9" y="770.4" font-size="27" fill="#0c0c0c" textLength="169.8" lengthAdjust="spacingAndGlyphs"  stroke="#fbfae9" stroke-width="0.6">and eliminates</text>
<text x="556.9" y="799.2" font-size="27" fill="#0c0c0c" textLength="154.4" lengthAdjust="spacingAndGlyphs"  stroke="#fbfae9" stroke-width="0.6">infected cells</text>
<text x="291.0" y="743.3" font-size="25" fill="#0c0c0c" textLength="61.5" lengthAdjust="spacingAndGlyphs"  stroke="#de8a86" stroke-width="0.6">CD4<tspan font-size="15" dy="-9.5" stroke="none">+</tspan></text>
<text x="291.0" y="773.3" font-size="25" fill="#0c0c0c" textLength="59.5" lengthAdjust="spacingAndGlyphs"  stroke="#d67674" stroke-width="0.6">T cell</text>
<text x="445.2" y="728.9" font-size="25" fill="#0c0c0c" textLength="60.8" lengthAdjust="spacingAndGlyphs"  stroke="#f0b6d8" stroke-width="0.6">CD8<tspan font-size="15" dy="-9.5" stroke="none">+</tspan></text>
<text x="445.2" y="758.0" font-size="25" fill="#0c0c0c" textLength="59.4" lengthAdjust="spacingAndGlyphs"  stroke="#eba4ce" stroke-width="0.6">T cell</text>
<rect x="192" y="838.7" width="560.4" height="144.3" fill="#71b67b" stroke="#3d4f3f" stroke-width="1.2"/>
<text x="211.8" y="872.3" font-size="27" fill="#ffffff" textLength="319.9" lengthAdjust="spacingAndGlyphs" font-weight="bold" stroke="#71b67b" stroke-width="0.3">Healthy immune response</text>
<circle cx="216.9" cy="891.8" r="4.3" fill="#fdfffd"/>
<text x="231.0" y="902.1" font-size="27" fill="#fdfffd" textLength="334.5" lengthAdjust="spacingAndGlyphs"  stroke="#71b67b" stroke-width="0.3">Infected cells rapidly cleared</text>
<circle cx="216.9" cy="920.4" r="4.3" fill="#fdfffd"/>
<text x="231.0" y="930.7" font-size="27" fill="#fdfffd" textLength="502.3" lengthAdjust="spacingAndGlyphs"  stroke="#71b67b" stroke-width="0.3">Virus inactivated by neutralizing antibodies</text>
<circle cx="216.9" cy="949.0" r="4.3" fill="#fdfffd"/>
<text x="231.0" y="959.3" font-size="27" fill="#fdfffd" textLength="463.7" lengthAdjust="spacingAndGlyphs"  stroke="#71b67b" stroke-width="0.3">Minimal inflammation and lung damage</text>
</svg></body></html>
